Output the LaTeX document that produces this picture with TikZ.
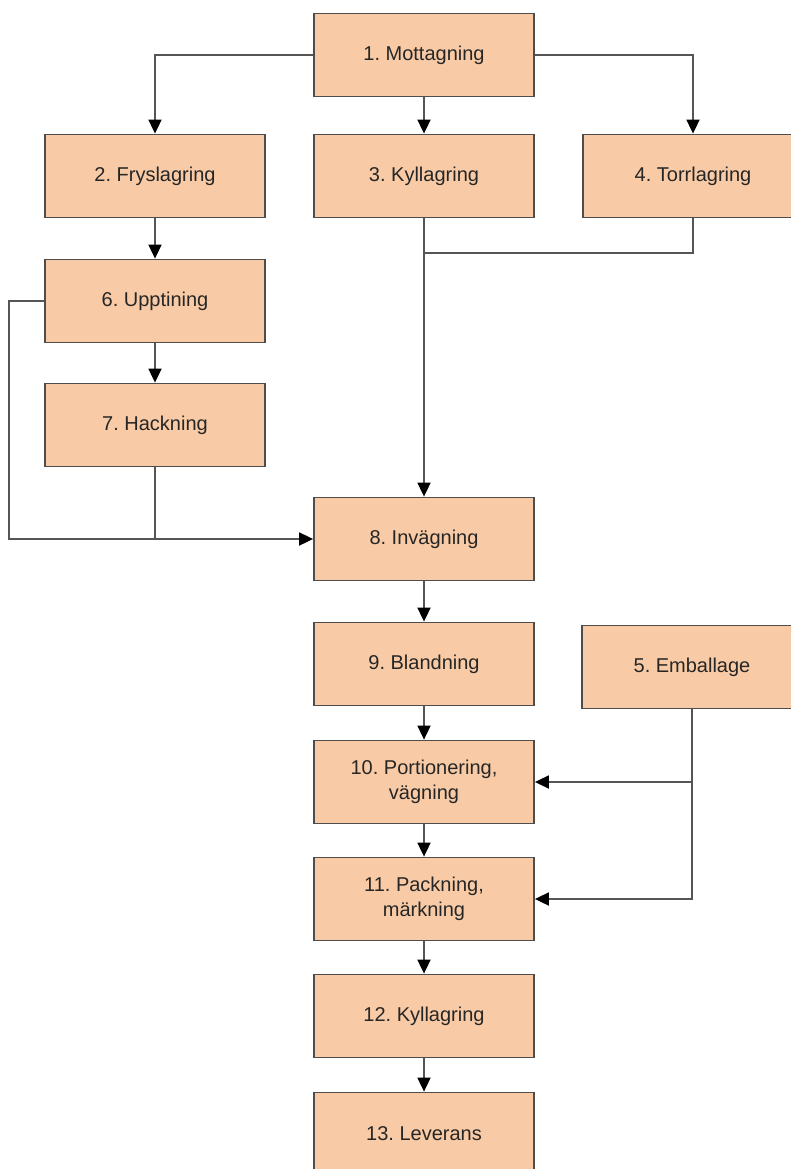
\documentclass[tikz,border=0pt]{standalone}
\usepackage{fontspec}
\setmainfont{Liberation Sans}
\usetikzlibrary{arrows.meta,positioning}
\definecolor{peach}{HTML}{F8CBA6}
\definecolor{edgegray}{HTML}{4D4D4D}
\definecolor{wire}{HTML}{555555}
\tikzset{
  flow/.style={-{Triangle[length=14pt,width=13pt,color=black]},draw=wire,line width=1.8pt},
  link/.style={draw=wire,line width=1.8pt},
  stepbox/.style={draw=edgegray,fill=peach,line width=1.8pt,
    minimum width=220pt,minimum height=83pt,align=center,inner sep=2pt,
    font=\fontsize{20}{25}\selectfont\frenchspacing,text=black!85},
}

\begin{document}
\begin{tikzpicture}[x=1pt,y=-1pt]
\useasboundingbox (0,0) rectangle (791,1169);
\clip (0,0) rectangle (791,1169);

\node[stepbox] (receive) at (424,55) {1. Mottagning};
\node[stepbox] (freeze) at (155,176) {2. Fryslagring};
\node[stepbox] (cool) at (424,176) {3. Kyllagring};
\node[stepbox] (dry) at (693,176) {4. Torrlagring};
\node[stepbox] (thaw) at (155,301) {6. Upptining};
\node[stepbox] (chop) at (155,425) {7. Hackning};
\node[stepbox] (weigh) at (424,539) {8. Invägning};
\node[stepbox] (mix) at (424,664) {9. Blandning};
\node[stepbox] (wrap) at (692,667) {5. Emballage};
\node[stepbox] (portion) at (424,782) {10. Portionering,\\vägning};
\node[stepbox] (pack) at (424,899) {11. Packning,\\märkning};
\node[stepbox] (store) at (424,1016) {12. Kyllagring};
\node[stepbox] (deliver) at (424,1134) {13. Leverans};

\coordinate (drymerge) at (424,253);
\coordinate (loopleft) at (9,301);
\coordinate (chopjoin) at (155,539);

\draw[flow] (receive.west) -| (freeze.north);
\draw[flow] (receive.east) -| (dry.north);
\draw[flow] (receive) -- (cool);
\draw[flow] (freeze) -- (thaw);
\draw[flow] (thaw) -- (chop);
\draw[flow] (cool) -- (weigh);
\draw[link] (dry.south) |- (drymerge);
\draw[flow] (thaw.west) -- (loopleft) |- (weigh.west);
\draw[link] (chop.south) -- (chopjoin);
\draw[flow] (weigh) -- (mix);
\draw[flow] (mix) -- (portion);
\draw[flow] (portion) -- (pack);
\draw[flow] (pack) -- (store);
\draw[flow] (store) -- (deliver);
\draw[flow] (wrap.south) |- (portion.east);
\draw[flow] (wrap.south) |- (pack.east);
\end{tikzpicture}
\end{document}
